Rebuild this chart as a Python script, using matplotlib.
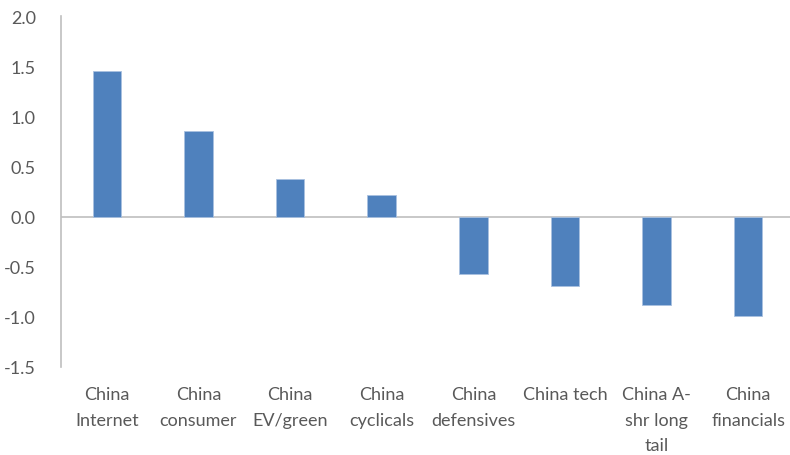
import matplotlib
matplotlib.use('Agg')
import matplotlib.pyplot as plt

# data
categories = ['China\nInternet', 'China\nconsumer', 'China\nEV/green', 'China\ncyclicals',
              'China\ndefensives', 'China tech', 'China A-\nshr long\ntail', 'China\nfinancials']
values = [1.45, 0.85, 0.37, 0.22, -0.57, -0.69, -0.88, -0.99]
y_ticks = [-1.5, -1.0, -0.5, 0.0, 0.5, 1.0, 1.5, 2.0]

plt.rcParams['font.family'] = ['Lato', 'DejaVu Sans']
plt.rcParams['font.size'] = 13

fig = plt.figure(figsize=(7.9, 4.56), dpi=100)
ax = fig.add_axes([61 / 790, 1 - 368 / 456, 733 / 790, 351 / 456])

x = list(range(len(categories)))
ax.bar(x, values, width=0.31, color='#4F81BD', edgecolor='#A9C1E0', linewidth=0.6, zorder=3)

# zero line
ax.axhline(0, color='#BFBFBF', linewidth=1.2, zorder=2)

ax.set_xlim(-0.5, 7.5)
ax.set_ylim(-1.5, 2.0)
ax.set_yticks(y_ticks)
ax.set_yticklabels(['%.1f' % v for v in y_ticks])
ax.set_xticks(x)
ax.set_xticklabels(categories, linespacing=1.72)

for s in ['top', 'right', 'bottom']:
    ax.spines[s].set_visible(False)
ax.spines['left'].set_color('#BFBFBF')
ax.spines['left'].set_linewidth(1.2)

ax.tick_params(axis='y', length=0, pad=18, colors='#595959', labelsize=13)
ax.tick_params(axis='x', length=0, pad=14, colors='#595959', labelsize=13)

fig.savefig('out.png', dpi=100)
